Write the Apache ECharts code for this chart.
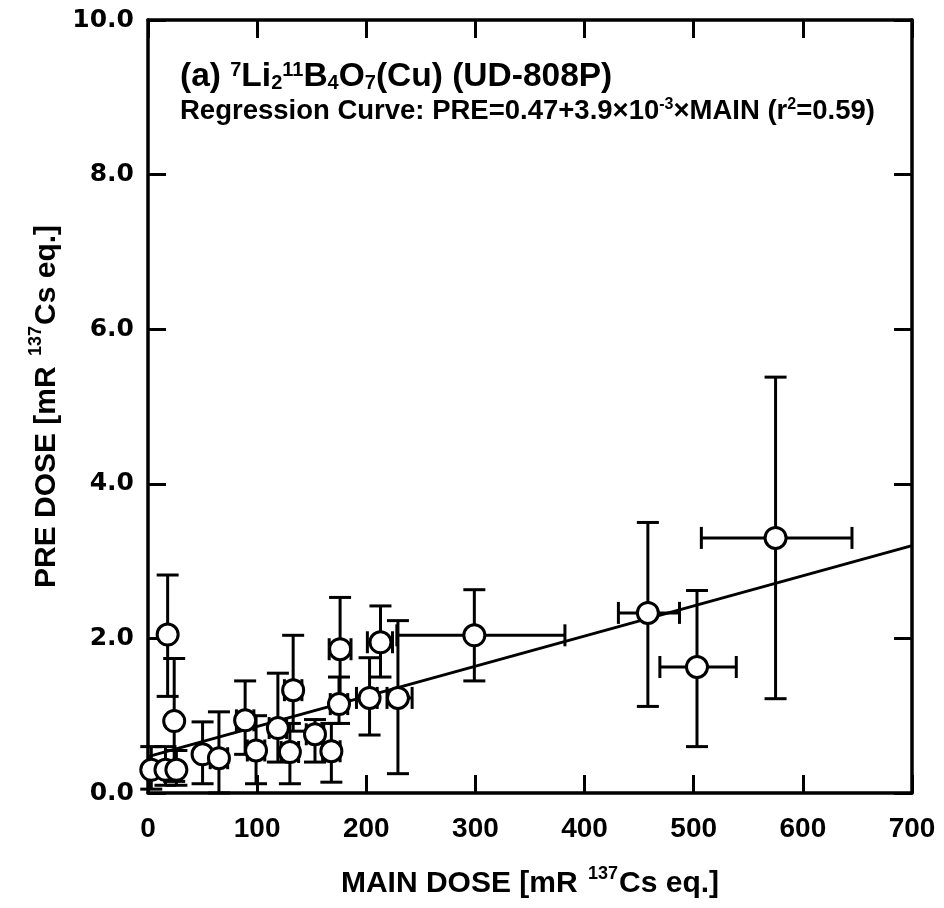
<!DOCTYPE html>
<html>
<head>
<meta charset="utf-8">
<script src="https://cdn.jsdelivr.net/npm/echarts@6/dist/echarts.min.js"></script>
<style>
html,body{margin:0;padding:0;background:#fff;}
#chart{width:944px;height:908px;}
</style>
</head>
<body>
<div id="chart"></div>
<script>
// ---- data ----
const mainDose = [3, 16, 26, 18, 24, 50, 65, 89, 99, 119, 130, 133, 153, 168, 175, 176, 203, 213, 229, 299, 458, 503, 575];
const preDose  = [0.3, 0.3, 0.3, 2.05, 0.93, 0.5, 0.45, 0.94, 0.55, 0.84, 0.53, 1.33, 0.76, 0.54, 1.15, 1.86, 1.23, 1.95, 1.23, 2.04, 2.33, 1.63, 3.3];
const mainLo   = [3, 16, 26, 18, 24, 50, 57, 81, 91, 111, 122, 125, 145, 160, 167, 166, 191, 201, 219, 228, 431, 469, 507];
const mainHi   = [3, 16, 26, 18, 24, 50, 73, 97, 107, 127, 138, 141, 161, 176, 183, 186, 210, 224, 242, 382, 487, 539, 645];
const preLo    = [0.05, 0.1, 0.1, 1.25, 0.15, 0.12, 0.0, 0.5, 0.12, 0.4, 0.12, 0.8, 0.4, 0.14, 0.9, 1.2, 0.75, 1.5, 0.25, 1.45, 1.12, 0.6, 1.22];
const preHi    = [0.6, 0.6, 0.55, 2.82, 1.74, 0.92, 1.05, 1.45, 1.0, 1.55, 0.9, 2.04, 0.95, 0.9, 1.5, 2.53, 1.75, 2.42, 2.23, 2.63, 3.5, 2.62, 5.38];
const xTicks = [0, 100, 200, 300, 400, 500, 600, 700];
const yTicks = [0, 2, 4, 6, 8, 10];
// regression curve given in the figure: PRE = 0.47 + 3.9e-3 * MAIN
const regIntercept = 0.47;
const regSlope = 3.9e-3;
const regRange = [0, 700];

const regData = regRange.map(v => [v, regIntercept + regSlope * v]);
const pts = mainDose.map((x, i) => [x, preDose[i], mainLo[i], mainHi[i], preLo[i], preHi[i]]);

const FONT = '"Liberation Sans", Arial, Helvetica, sans-serif';
const YFONT = '"DejaVu Sans", Verdana, sans-serif';

function renderErr(params, api) {
  const x = api.value(0), y = api.value(1);
  const xl = api.value(2), xh = api.value(3), yl = api.value(4), yh = api.value(5);
  const st = { stroke: '#000', lineWidth: 3 };
  const ch = [];
  const cap = 11;
  if (yh > y || yl < y) {
    const a = api.coord([x, yl]), b = api.coord([x, yh]);
    ch.push({ type: 'line', shape: { x1: a[0], y1: a[1], x2: b[0], y2: b[1] }, style: st });
    if (yl < y) ch.push({ type: 'line', shape: { x1: a[0] - cap, y1: a[1], x2: a[0] + cap, y2: a[1] }, style: st });
    if (yh > y) ch.push({ type: 'line', shape: { x1: b[0] - cap, y1: b[1], x2: b[0] + cap, y2: b[1] }, style: st });
  }
  if (xh > x || xl < x) {
    const a = api.coord([xl, y]), b = api.coord([xh, y]);
    ch.push({ type: 'line', shape: { x1: a[0], y1: a[1], x2: b[0], y2: b[1] }, style: st });
    if (xl < x) ch.push({ type: 'line', shape: { x1: a[0], y1: a[1] - cap, x2: a[0], y2: a[1] + cap }, style: st });
    if (xh > x) ch.push({ type: 'line', shape: { x1: b[0], y1: b[1] - cap, x2: b[0], y2: b[1] + cap }, style: st });
  }
  return { type: 'group', children: ch };
}

const axisLineStyle = { onZero: false, lineStyle: { color: '#000', width: 3.5 } };
const tickStyle = { inside: true, length: 18, lineStyle: { color: '#000', width: 3 } };

const chart = echarts.init(document.getElementById('chart'), null, { renderer: 'canvas' });
chart.setOption({
  animation: false,
  backgroundColor: '#fff',
  grid: { left: 148, right: 32, top: 20, bottom: 115, containLabel: false },
  xAxis: [{
    type: 'value', min: xTicks[0], max: xTicks[xTicks.length - 1], interval: 100,
    position: 'bottom',
    axisLine: axisLineStyle, axisTick: tickStyle, splitLine: { show: false },
    axisLabel: { color: '#000', fontFamily: FONT, fontWeight: 'bold', fontSize: 28, margin: 22 },
    name: '{m|MAIN DOSE [mR }{s|137}{m|Cs eq.]}',
    nameLocation: 'middle', nameGap: 72,
    nameTextStyle: {
      rich: {
        m: { fontFamily: FONT, fontWeight: 'bold', fontSize: 30, color: '#000', lineHeight: 34, verticalAlign: 'bottom' },
        s: { fontFamily: FONT, fontWeight: 'bold', fontSize: 18, color: '#000', lineHeight: 34, verticalAlign: 'top', padding: [0, 1, 12, 2] }
      }
    }
  }, {
    type: 'value', min: xTicks[0], max: xTicks[xTicks.length - 1], interval: 100,
    position: 'top',
    axisLine: axisLineStyle, axisTick: tickStyle, splitLine: { show: false },
    axisLabel: { show: false }
  }],
  yAxis: [{
    type: 'value', min: yTicks[0], max: yTicks[yTicks.length - 1], interval: 2,
    position: 'left',
    axisLine: axisLineStyle, axisTick: tickStyle, splitLine: { show: false },
    axisLabel: { color: '#000', fontFamily: YFONT, fontWeight: 'bold', fontSize: 25, margin: 14,
      formatter: v => v.toFixed(1) },
    name: '{m|PRE DOSE [mR }{s|137}{m|Cs eq.]}',
    nameLocation: 'middle', nameGap: 86, nameRotate: 90,
    nameTextStyle: {
      rich: {
        m: { fontFamily: FONT, fontWeight: 'bold', fontSize: 30, color: '#000', lineHeight: 34, verticalAlign: 'bottom' },
        s: { fontFamily: FONT, fontWeight: 'bold', fontSize: 18, color: '#000', lineHeight: 34, verticalAlign: 'top', padding: [0, 1, 12, 2] }
      }
    }
  }, {
    type: 'value', min: yTicks[0], max: yTicks[yTicks.length - 1], interval: 2,
    position: 'right',
    axisLine: axisLineStyle, axisTick: tickStyle, splitLine: { show: false },
    axisLabel: { show: false }
  }],
  graphic: [{
    type: 'text', left: 180, top: 55, z: 10,
    style: {
      text: '{m|(a) }{s|7}{m|Li}{b|2}{s|11}{m|B}{b|4}{m|O}{b|7}{m|(Cu) (UD-808P)}',
      rich: {
        m: { fontFamily: FONT, fontWeight: 'bold', fontSize: 33.5, fill: '#000', lineHeight: 44, verticalAlign: 'middle' },
        s: { fontFamily: FONT, fontWeight: 'bold', fontSize: 20, fill: '#000', lineHeight: 44, verticalAlign: 'top', padding: [5, 0, 0, 0] },
        b: { fontFamily: FONT, fontWeight: 'bold', fontSize: 20, fill: '#000', lineHeight: 44, verticalAlign: 'bottom', padding: [0, 0, 6, 0] }
      }
    }
  }, {
    type: 'text', left: 180, top: 94, z: 10,
    style: {
      text: '{m|Regression Curve: PRE=0.47+3.9×10}{s|-3}{m|×MAIN (r}{s|2}{m|=0.59)}',
      rich: {
        m: { fontFamily: FONT, fontWeight: 'bold', fontSize: 27.5, fill: '#000', lineHeight: 34, verticalAlign: 'middle' },
        s: { fontFamily: FONT, fontWeight: 'bold', fontSize: 16, fill: '#000', lineHeight: 34, verticalAlign: 'top', padding: [3, 0, 0, 0] }
      }
    }
  }],
  series: [{
    type: 'line', data: regData, showSymbol: false, symbol: 'none',
    lineStyle: { color: '#000', width: 3 }, z: 2, silent: true
  }, {
    type: 'custom', data: pts, renderItem: renderErr,
    encode: { x: 0, y: 1 }, z: 3, silent: true
  }, {
    type: 'scatter', data: pts.map(p => [p[0], p[1]]), symbol: 'circle', symbolSize: 21,
    itemStyle: { color: '#fff', borderColor: '#000', borderWidth: 3, opacity: 1 }, z: 4, silent: true
  }]
});
</script>
</body>
</html>
